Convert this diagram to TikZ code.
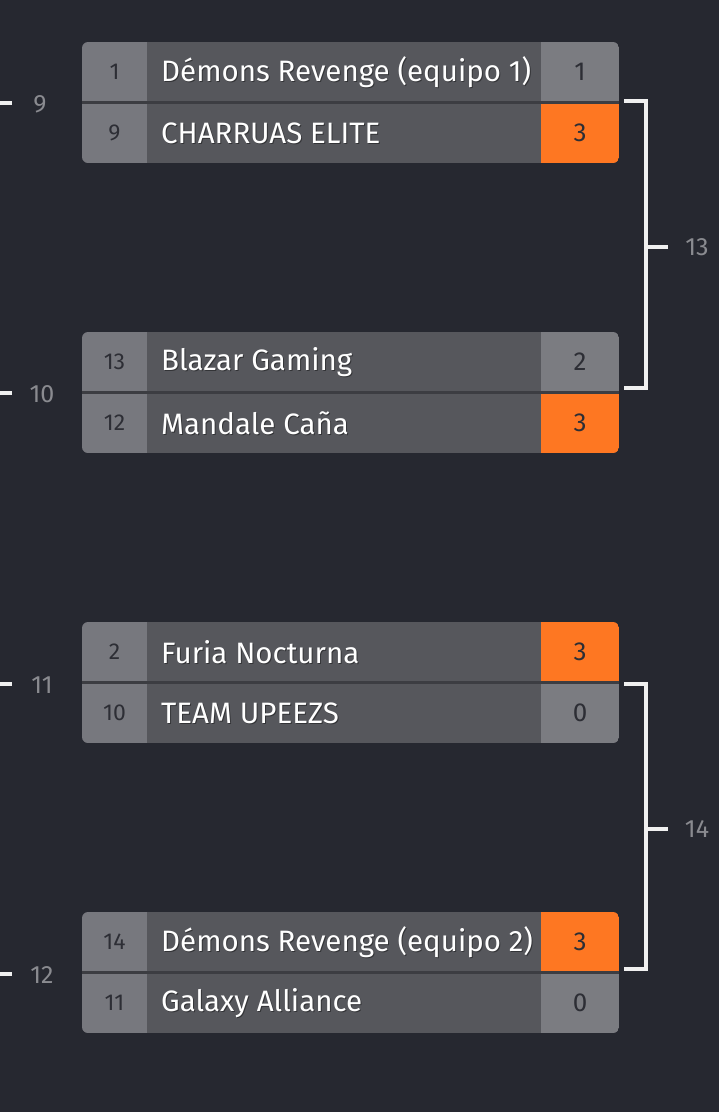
\documentclass[tikz,border=0pt]{standalone}
\usepackage{fontspec}
\setmainfont{Fira Sans}
\definecolor{bgc}{HTML}{262830}
\definecolor{seedc}{HTML}{77787E}
\definecolor{namec}{HTML}{56575C}
\definecolor{scorec}{HTML}{7B7C81}
\definecolor{winc}{HTML}{FE7722}
\definecolor{divc}{HTML}{3C3D42}
\definecolor{darktxt}{HTML}{2D2E35}
\definecolor{lbltxt}{HTML}{8A8B90}
\definecolor{linec}{HTML}{F0F0F0}
\tikzset{
  seedtxt/.style={text=darktxt, font=\fontsize{23}{23}\selectfont, anchor=center},
  nametxt/.style={text=white, font=\fontsize{29.5}{30}\selectfont, anchor=west, inner sep=0pt},
  nameshadow/.style={text=black, font=\fontsize{29.5}{30}\selectfont, anchor=west, inner sep=0pt, opacity=0.4},
  scoretxt/.style={text=darktxt, font=\fontsize{26}{26}\selectfont, anchor=center},
  lbl/.style={text=lbltxt, font=\fontsize{25}{25}\selectfont, anchor=center},
  conn/.style={draw=linec, line width=4pt},
}
\def\colA{scorec}\def\colB{scorec}
\newcommand{\matchbox}[8]{%
  % #1 top, #2 id, #3 seed1, #4 name1, #5 score1, #6 seed2, #7 name2, #8 score2
  \begin{scope}
    \clip[rounded corners=6pt] (82,#1) rectangle (619,#1+121);
    \fill[seedc] (82,#1) rectangle (147,#1+121);
    \fill[namec] (147,#1) rectangle (541,#1+121);
    \fill[\colA] (541,#1) rectangle (619,#1+60);
    \fill[\colB] (541,#1+60) rectangle (619,#1+121);
    \fill[divc] (82,#1+59) rectangle (619,#1+62);
    \begin{scope}
      \clip (147,#1) rectangle (541,#1+121);
      \node[nameshadow] at (162,#1+31.5) {#4};
      \node[nametxt] (#2n1) at (161,#1+30) {#4};
      \node[nameshadow] at (162,#1+92.5) {#7};
      \node[nametxt] (#2n2) at (161,#1+91) {#7};
    \end{scope}
  \end{scope}
  \node[seedtxt] (#2s1) at (114.5,#1+30) {#3};
  \node[seedtxt] (#2s2) at (114.5,#1+91) {#6};
  \node[scoretxt] (#2c1) at (580,#1+30) {#5};
  \node[scoretxt] (#2c2) at (580,#1+91) {#8};
}
\begin{document}
\begin{tikzpicture}[x=1pt,y=-1pt]
\fill[bgc] (0,0) rectangle (719,1112);
\useasboundingbox (0,0) rectangle (719,1112);

\def\colA{scorec}\def\colB{winc}
\matchbox{42}{ma}{1}{Démons Revenge (equipo 1)}{1}{9}{CHARRUAS ELITE}{3}
\def\colA{scorec}\def\colB{winc}
\matchbox{332}{mb}{13}{Blazar Gaming}{2}{12}{Mandale Caña}{3}
\def\colA{winc}\def\colB{scorec}
\matchbox{622}{mc}{2}{Furia Nocturna}{3}{10}{TEAM UPEEZS}{0}
\def\colA{winc}\def\colB{scorec}
\matchbox{912}{md}{14}{Démons Revenge (equipo 2)}{3}{11}{Galaxy Alliance}{0}

% left stubs and labels
\coordinate (la0) at (0,103);   \coordinate (la1) at (12,103);
\coordinate (lb0) at (0,393);   \coordinate (lb1) at (12,393);
\coordinate (lc0) at (0,684);   \coordinate (lc1) at (12,684);
\coordinate (ld0) at (0,974);   \coordinate (ld1) at (12,974);
\draw[conn] (la0) -- (la1);
\draw[conn] (lb0) -- (lb1);
\draw[conn] (lc0) -- (lc1);
\draw[conn] (ld0) -- (ld1);
\node[lbl] (l9)  at (40,104) {9};
\node[lbl] (l10) at (42,394) {10};
\node[lbl] (l11) at (42,685) {11};
\node[lbl] (l12) at (42,975) {12};

% brackets
\coordinate (ba1) at (624,101); \coordinate (ba2) at (646,101);
\coordinate (ba3) at (646,388); \coordinate (ba4) at (624,388);
\coordinate (bam) at (646,247); \coordinate (bae) at (668,247);
\draw[conn, line join=miter] (ba1) -- (ba2) -- (ba3) -- (ba4);
\draw[conn] (bam) -- (bae);
\node[lbl] (l13) at (697,247) {13};

\coordinate (bb1) at (624,684); \coordinate (bb2) at (646,684);
\coordinate (bb3) at (646,969); \coordinate (bb4) at (624,969);
\coordinate (bbm) at (646,829); \coordinate (bbe) at (668,829);
\draw[conn, line join=miter] (bb1) -- (bb2) -- (bb3) -- (bb4);
\draw[conn] (bbm) -- (bbe);
\node[lbl] (l14) at (697,829) {14};

\end{tikzpicture}
\end{document}
